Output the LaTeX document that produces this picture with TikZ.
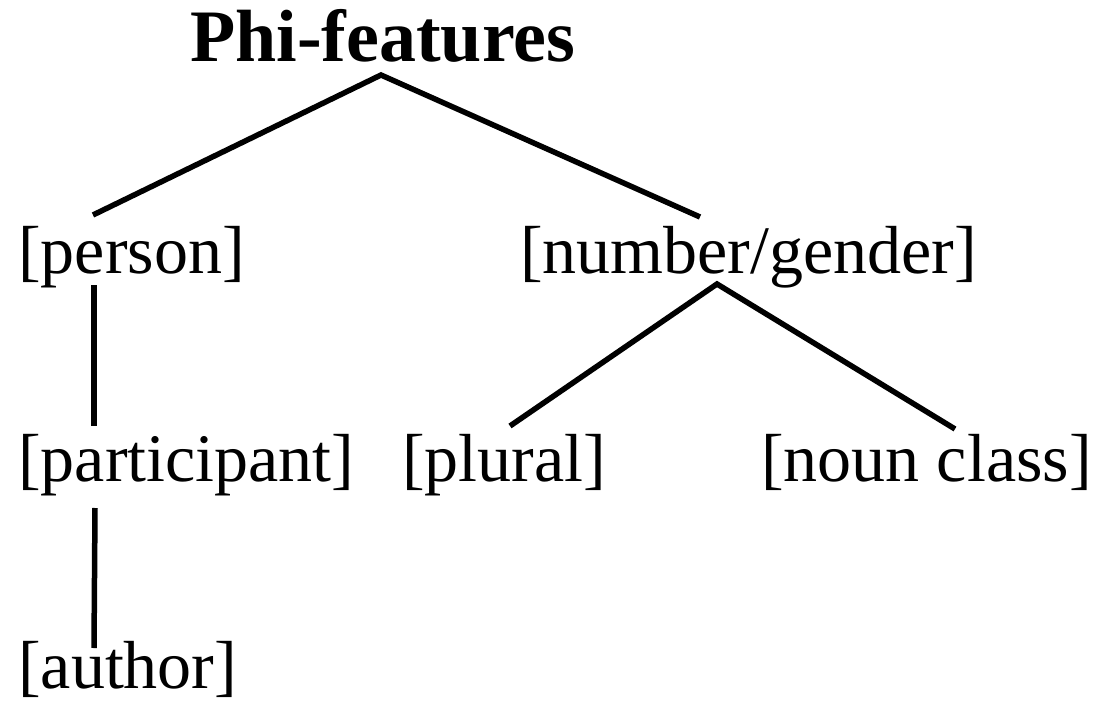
\documentclass[tikz,border=0pt]{standalone}
\usepackage{fontspec}
\setmainfont{Liberation Serif}
\begin{document}
\begin{tikzpicture}[x=1pt,y=-1pt,
  feat/.style={anchor=base west,inner sep=0pt,font=\fontsize{68}{80}\selectfont},
  rootlbl/.style={anchor=base west,inner sep=0pt,font=\fontsize{74}{86}\selectfont\bfseries},
  branch/.style={line width=5.5pt}]
\useasboundingbox (0,0) rectangle (1104,701);
% labels
\node[rootlbl] (phi) at (190,62) {Phi-features};
\node[feat] (person) at (18,273) {[person]};
\node[feat] (numgen) at (520,273) {[number/gender]};
\node[feat] (partic) at (18,481) {[participant]};
\node[feat] (plural) at (402,481) {[plural]};
\node[feat,anchor=base east] (noun) at (1092,481) {[noun class]};
\node[feat] (author) at (18,688) {[author]};
% branch end points
\coordinate (phiB) at (381,75);
\coordinate (personT) at (93,215);
\coordinate (numgenT) at (700,217);
\coordinate (personB) at (94,285);
\coordinate (particT) at (94,426);
\coordinate (particB) at (95,508);
\coordinate (authorT) at (94,648);
\coordinate (numgenB) at (717,284);
\coordinate (pluralT) at (510,426);
\coordinate (nounT) at (955,429);
% branches
\draw[branch] (personT) -- (phiB) -- (numgenT);
\draw[branch] (personB) -- (particT);
\draw[branch] (particB) -- (authorT);
\draw[branch] (pluralT) -- (numgenB) -- (nounT);
\end{tikzpicture}
\end{document}
